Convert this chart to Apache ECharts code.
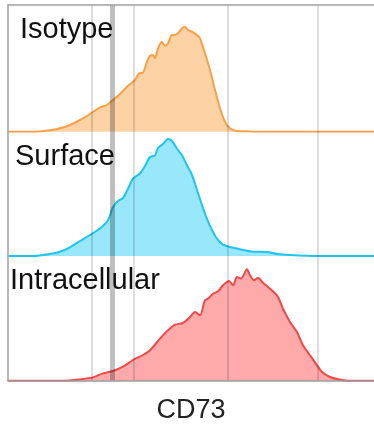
<!DOCTYPE html>
<html>
<head>
<meta charset="utf-8">
<script src="https://cdn.jsdelivr.net/npm/echarts@6/dist/echarts.min.js"></script>
<style>
html,body{margin:0;padding:0;background:#fff;}
#chart{width:374px;height:430px;}
</style>
</head>
<body>
<div id="chart"></div>
<script>
// CD73 channel (x) and relative cell count (y)
const isotypeX = [0, 35, 52, 62, 72, 82, 92, 99, 105, 112, 119, 124, 127, 131, 135, 139, 142, 145, 147, 150, 154, 157, 160, 164, 167, 170, 174, 177, 180, 184, 189, 192, 197, 202, 207, 212, 217, 222, 229, 242, 262, 366];
const isotypeY = [0, 0.5, 3.4, 6.7, 11.7, 17.7, 24.4, 26.7, 31.7, 37.7, 45, 49, 51.7, 58.4, 59, 70, 75.7, 76.7, 73.4, 83.4, 90, 85.7, 88.4, 96.7, 96.7, 98.4, 103.4, 105, 101.7, 100, 96.7, 93.4, 78.4, 61.7, 41.7, 23.4, 10, 3.4, 0.7, 0.3, 0, 0];

const surfaceX = [0, 25, 42, 52, 62, 72, 82, 92, 100, 105, 110, 115, 120, 125, 132, 137, 142, 147, 150, 155, 160, 164, 169, 174, 179, 184, 189, 194, 199, 204, 209, 215, 222, 232, 245, 259, 269, 282, 309, 366];
const surfaceY = [0, 0, 2, 4.3, 8.7, 15, 21, 27.5, 35.7, 49, 55, 58, 67.3, 77.3, 82.5, 90, 99, 100.7, 108, 112, 117, 115, 107.3, 100.7, 90.7, 81, 66, 51, 37, 26, 17.3, 11.3, 9, 6.7, 4.3, 4, 2, 1, 0, 0];

const intraX = [0, 59, 72, 85, 95, 105, 115, 125, 135, 142, 152, 160, 167, 175, 182, 187, 192, 197, 201, 205, 210, 215, 221, 225, 229, 233, 239, 242, 246, 250, 255, 260, 265, 270, 275, 282, 289, 295, 302, 309, 314, 322, 330, 339, 366];
const intraY = [0, 0, 1.3, 3.3, 7.3, 9.7, 14, 20.7, 25.7, 30.4, 42, 50.4, 56, 57.7, 63.7, 68.7, 65.4, 80.4, 82.7, 87, 89.4, 95.4, 99.7, 95.4, 103.7, 102, 111.4, 105.4, 100.4, 103, 98, 93.7, 89.4, 83.7, 72, 58.7, 48.7, 35.4, 25.4, 15.4, 8.7, 3.7, 1.4, 0, 0];

const panelNames = ['Isotype', 'Surface', 'Intracellular'];
const axisTitle = 'CD73';
const gateLines = [84, 126, 220, 310];   // thin vertical reference lines (channel)
const gateThick = [104.5];               // thick vertical reference line (channel)

const xMin = 0, xMax = 366;
const lineColors = ['#F8A048', '#1FC5EE', '#F04848'];
const fillColors = ['#FDD3A6', '#99E7FB', '#FEAAAA'];
const grids = [
  {left: 8, right: 0, top: 5, height: 126.7},
  {left: 8, right: 0, top: 131.7, height: 124.3},
  {left: 8, right: 0, top: 256, height: 124.7}
];
const seriesX = [isotypeX, surfaceX, intraX];
const seriesY = [isotypeY, surfaceY, intraY];

const xAxes = grids.map((g, i) => ({
  type: 'value', gridIndex: i, min: xMin, max: xMax,
  axisLine: {show: i === 2, lineStyle: {color: '#9a9a9a', width: 1.5}},
  axisTick: {show: false}, axisLabel: {show: false}, splitLine: {show: false},
  z: 5,
  name: i === 2 ? axisTitle : '',
  nameLocation: 'middle', nameGap: 16,
  nameTextStyle: {fontSize: 27, color: '#222', fontFamily: 'Liberation Sans, Arial, sans-serif'}
}));
xAxes.push({
  type: 'value', gridIndex: 0, position: 'top', min: xMin, max: xMax,
  axisLine: {show: true, lineStyle: {color: '#a0a0a0', width: 1.5}},
  axisTick: {show: false}, axisLabel: {show: false}, splitLine: {show: false}, z: 5
});

const yAxes = grids.map((g, i) => ({
  type: 'value', gridIndex: i, min: 0, max: g.height,
  axisLine: {show: true, lineStyle: {color: '#a0a0a0', width: 1.5}},
  axisTick: {show: false}, axisLabel: {show: false}, splitLine: {show: false},
  z: 5
}));

const series = grids.map((g, i) => ({
  type: 'line', xAxisIndex: i, yAxisIndex: i,
  data: seriesX[i].map((x, k) => [x, seriesY[i][k]]),
  showSymbol: false, symbol: 'none', smooth: 0.25,
  lineStyle: {color: lineColors[i], width: 2},
  areaStyle: {color: fillColors[i], opacity: 1},
  silent: true, z: 2,
  markLine: {
    silent: true, symbol: ['none', 'none'], label: {show: false},
    animation: false,
    data: gateLines.map(v => ({xAxis: v, lineStyle: {color: 'rgba(0,0,0,0.18)', width: 1.5, type: 'solid'}}))
      .concat(gateThick.map(v => ({xAxis: v, lineStyle: {color: 'rgba(0,0,0,0.25)', width: 5, type: 'solid'}})))
  }
}));

const titleFont = {fontSize: 29, color: '#111', fontWeight: 'normal', fontFamily: 'Liberation Sans, Arial, sans-serif'};
const titlePos = [{left: 20, top: 15}, {left: 15, top: 142}, {left: 10, top: 266}];

const chart = echarts.init(document.getElementById('chart'), null, {renderer: 'canvas'});
chart.setOption({
  animation: false,
  backgroundColor: '#fff',
  title: panelNames.map((t, i) => ({text: t, left: titlePos[i].left, top: titlePos[i].top, padding: 0, textStyle: titleFont, z: 10})),
  grid: grids,
  xAxis: xAxes,
  yAxis: yAxes,
  series: series
});
</script>
</body>
</html>
